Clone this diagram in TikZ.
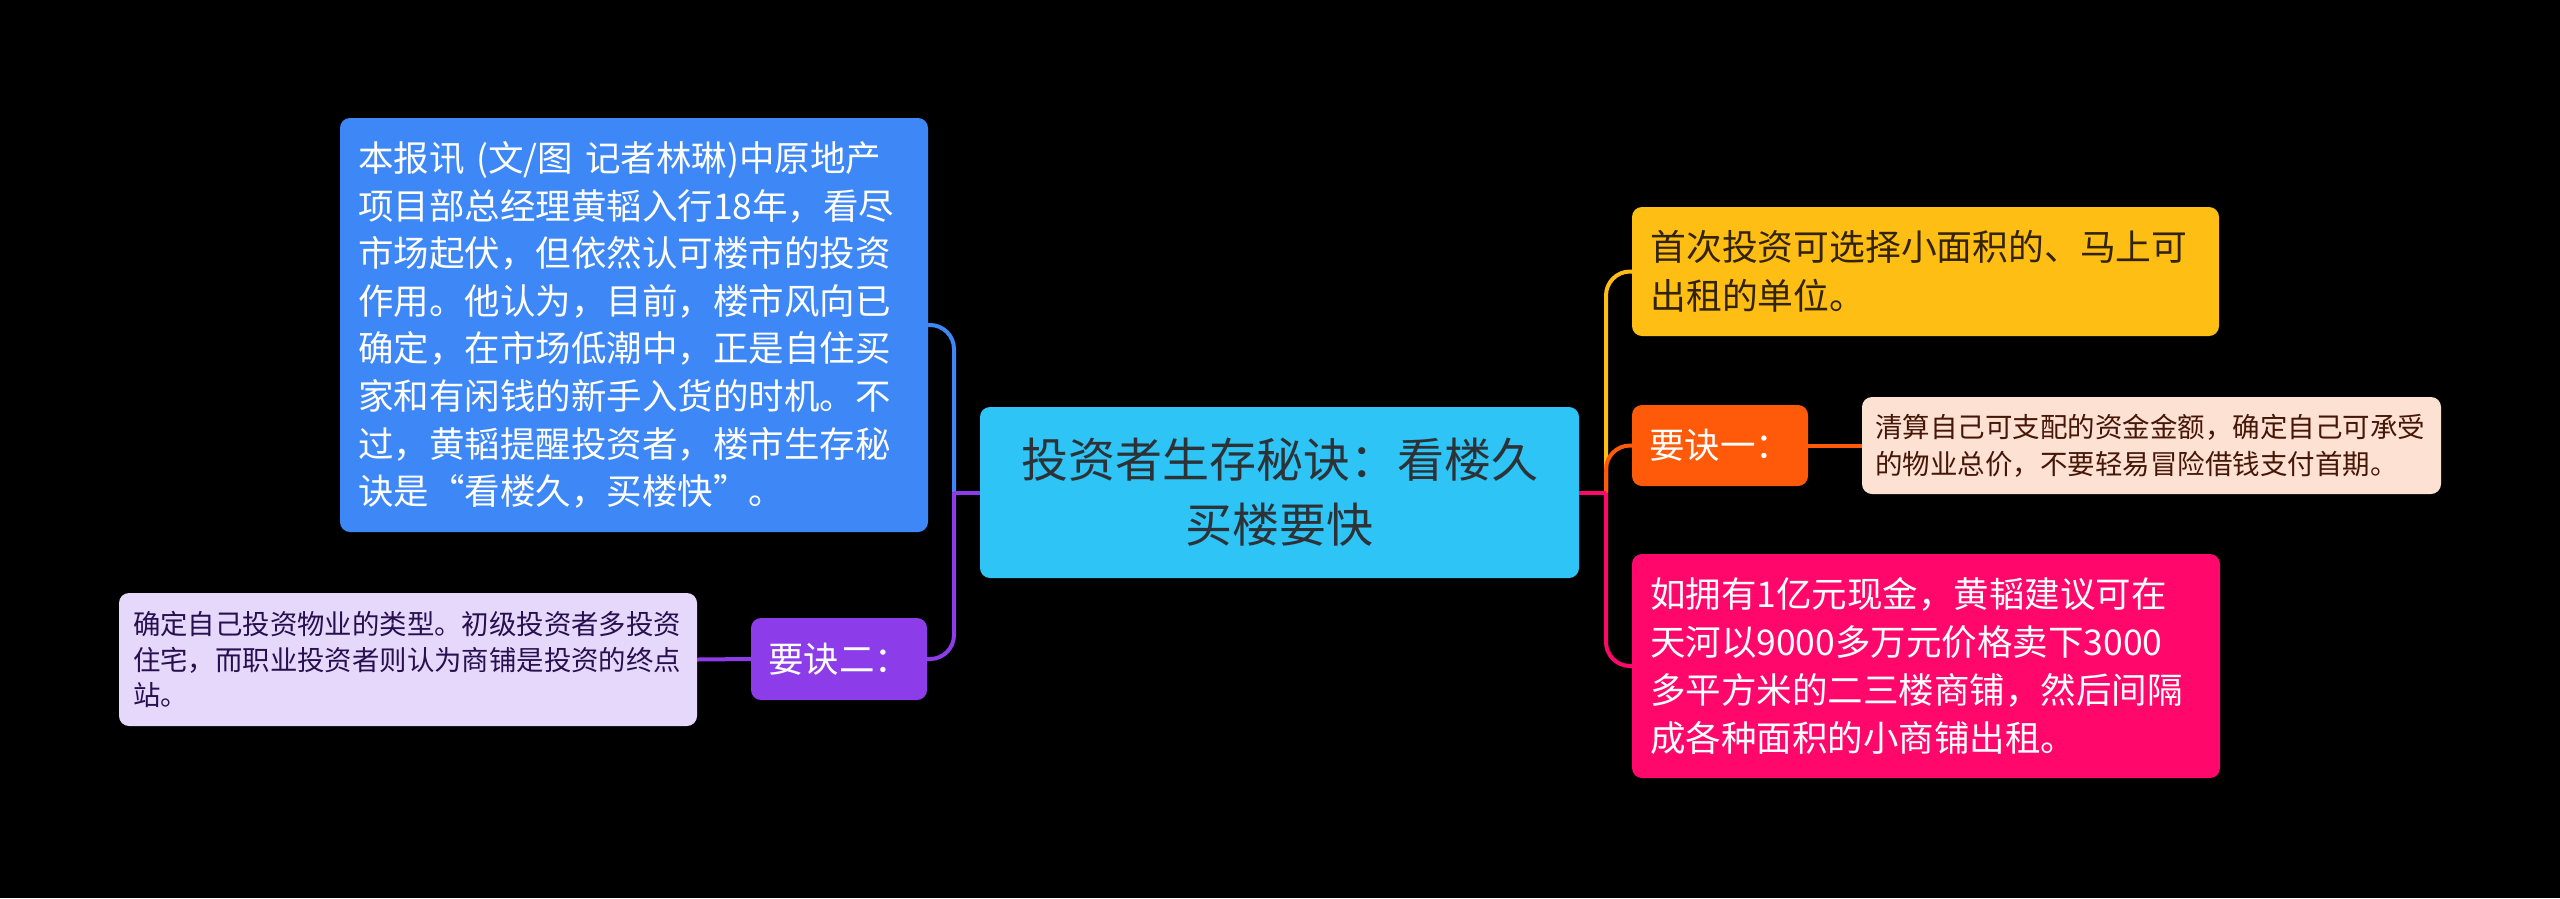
\documentclass[tikz,border=0pt]{standalone}
\usepackage{fontspec}
\setmainfont{Noto Sans CJK SC}
\definecolor{cBlue}{RGB}{62,135,246}
\definecolor{cRoot}{RGB}{46,196,246}
\definecolor{cYellow}{RGB}{255,190,20}
\definecolor{cOrange}{RGB}{254,90,10}
\definecolor{cPeach}{RGB}{253,226,212}
\definecolor{cPink}{RGB}{255,7,107}
\definecolor{cPurple}{RGB}{140,60,232}
\definecolor{cLav}{RGB}{230,216,250}
\definecolor{tRoot}{RGB}{45,50,55}
\definecolor{tYellow}{RGB}{50,35,5}
\definecolor{tPeach}{RGB}{70,22,8}
\definecolor{tLav}{RGB}{40,15,80}
\begin{document}
\begin{tikzpicture}[x=1pt,y=-1pt,
  box/.style={rounded corners=10pt, inner ysep=0pt, anchor=center, align=left},
  conn/.style={line width=4pt},
  elbow/.style={line width=4pt, rounded corners=24pt}]
\fill[black] (0,0) rectangle (2560,898);
\useasboundingbox (0,0) rectangle (2560,898);

\node[box, fill=cRoot, text=tRoot, align=center, inner xsep=18pt,
  minimum width=599pt, minimum height=171pt, text width=563pt,
  font={\fontsize{47pt}{65pt}\selectfont}] (root) at (1279.5,492.5)
  {投资者生存秘诀：看楼久\\买楼要快};

\node[box, fill=cBlue, text=white, inner xsep=18pt,
  minimum width=588pt, minimum height=414pt, text width=552pt,
  font={\fontsize{35.5pt}{47.6pt}\selectfont}] (blue) at (634,325)
  {本报讯 (文/图 记者林琳)中原地产\\
项目部总经理黄韬入行18年，看尽\\
市场起伏，但依然认可楼市的投资\\
作用。他认为，目前，楼市风向已\\
确定，在市场低潮中，正是自住买\\
家和有闲钱的新手入货的时机。不\\
过，黄韬提醒投资者，楼市生存秘\\
诀是“看楼久，买楼快”。};

\node[box, fill=cPurple, text=white, inner xsep=17pt,
  minimum width=176pt, minimum height=82pt, text width=142pt,
  font={\fontsize{35.5pt}{47pt}\selectfont}] (purple) at (839,659)
  {要诀二：};

\node[box, fill=cLav, text=tLav, inner xsep=14pt,
  minimum width=578pt, minimum height=133pt, text width=550pt,
  font={\fontsize{27.4pt}{35.5pt}\selectfont}] (lav) at (408,659.5)
  {确定自己投资物业的类型。初级投资者多投资\\
住宅，而职业投资者则认为商铺是投资的终点\\
站。};

\node[box, fill=cYellow, text=tYellow, inner xsep=18.5pt,
  minimum width=587pt, minimum height=129pt, text width=550pt,
  font={\fontsize{35.8pt}{49pt}\selectfont}] (yellow) at (1925.5,271.5)
  {首次投资可选择小面积的、马上可\\出租的单位。};

\node[box, fill=cOrange, text=white, inner xsep=17pt,
  minimum width=176pt, minimum height=81pt, text width=142pt,
  font={\fontsize{35.5pt}{47pt}\selectfont}] (orange) at (1720,445.5)
  {要诀一：};

\node[box, fill=cPeach, text=tPeach, inner xsep=13pt,
  minimum width=579pt, minimum height=97pt, text width=553pt,
  font={\fontsize{27.5pt}{37pt}\selectfont}] (peach) at (2151.5,445.5)
  {清算自己可支配的资金金额，确定自己可承受\\
的物业总价，不要轻易冒险借钱支付首期。};

\node[box, fill=cPink, text=white, inner xsep=18pt,
  minimum width=588pt, minimum height=224pt, text width=552pt,
  font={\fontsize{35.5pt}{48pt}\selectfont}] (pink) at (1926,666)
  {如拥有1亿元现金，黄韬建议可在\\
天河以9000多万元价格卖下3000\\
多平方米的二三楼商铺，然后间隔\\
成各种面积的小商铺出租。};

\coordinate (jl) at (954,492.5);
\coordinate (jr) at (1606,492.5);

\draw[elbow, cBlue] (jl) |- (blue.east);
\draw[conn, cPurple] (root.west) -- (jl);
\draw[elbow, cPurple] (jl) |- (purple.east);
\draw[conn, cPurple] (purple.west) -- (lav.east);

\draw[elbow, cYellow] (jr) |- (yellow.west);
\draw[elbow, cOrange] (jr) |- (orange.west);
\draw[conn, cPink] (root.east) -- (jr);
\draw[elbow, cPink] (jr) |- (pink.west);
\draw[conn, cOrange] (orange.east) -- (peach.west);
\end{tikzpicture}
\end{document}
